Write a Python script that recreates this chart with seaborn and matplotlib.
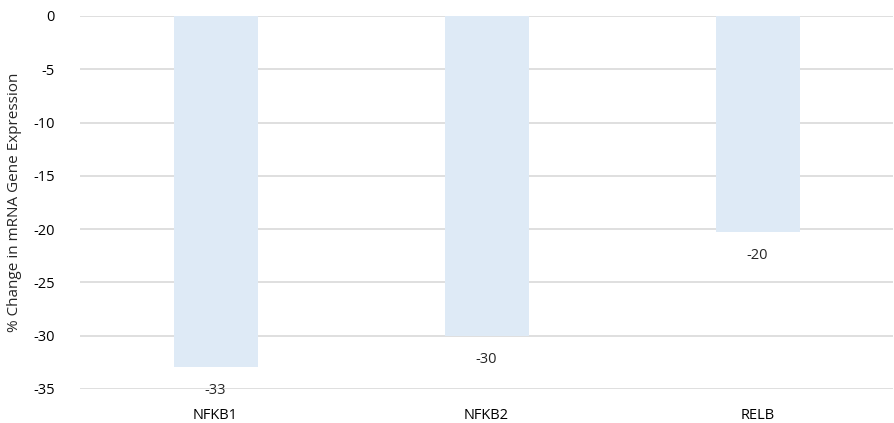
import numpy as np
import pandas as pd
import seaborn as sns
from matplotlib import pyplot as plt

genes = ['NFKB1', 'NFKB2', 'RELB']
pct_change = [-32.9, -30.0, -20.3]
yticks = [0, -5, -10, -15, -20, -25, -30, -35]

df = pd.DataFrame({'gene': genes, 'change': pct_change})

sns.set_style('white')
plt.rcParams['font.family'] = ['Open Sans', 'DejaVu Sans']

fig = plt.figure(figsize=(8.94, 4.23), dpi=100)
ax = fig.add_axes([0.0895, 0.0804, 0.9095, 0.8818])

sns.barplot(data=df, x='gene', y='change', color='#DEEAF6', width=0.31,
            saturation=1, linewidth=0, ax=ax, zorder=2)

ax.set_ylim(-35, 0)
ax.set_yticks(yticks)
ax.set_yticklabels([str(t) for t in yticks])
ax.set_xlim(-0.5, 2.5)
ax.yaxis.grid(True, color='#D9D9D9', linewidth=1.2, zorder=0)
ax.set_axisbelow(True)
for s in ax.spines.values():
    s.set_visible(False)
ax.tick_params(axis='y', length=0, pad=18, labelsize=10.5, colors='#000000')
ax.tick_params(axis='x', length=0, pad=14, labelsize=10.5, colors='#000000')
ax.set_xlabel('')
ax.set_ylabel('% Change in mRNA Gene Expression', fontsize=11, labelpad=8)

for i, v in enumerate(pct_change):
    ax.annotate('%.0f' % v, (i, v), xytext=(0, -17), textcoords='offset points',
                ha='center', va='center', fontsize=10.5, annotation_clip=False)

fig.savefig('out.png', dpi=100)
